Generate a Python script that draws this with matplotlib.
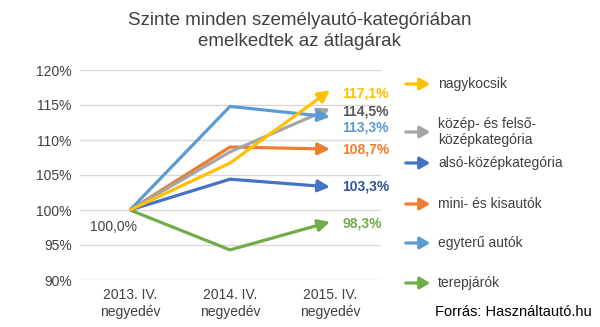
import matplotlib.pyplot as plt
from matplotlib.patches import FancyArrowPatch
import numpy as np

plt.rcParams['font.family'] = ['Liberation Sans', 'DejaVu Sans']

# Data
periods = ['2013. IV.\nnegyedév', '2014. IV.\nnegyedév', '2015. IV.\nnegyedév']
names = ['nagykocsik', 'közép- és felső-\nközépkategória', 'alsó-középkategória',
         'mini- és kisautók', 'egyterű autók', 'terepjárók']
nagykocsik = [100.0, 106.7, 117.1]
kozep_felso = [100.0, 108.3, 114.5]
also_kozep = [100.0, 104.4, 103.3]
mini_kis = [100.0, 109.0, 108.7]
egyteru = [100.0, 114.8, 113.3]
terepjaro = [100.0, 94.3, 98.3]
series = [nagykocsik, kozep_felso, also_kozep, mini_kis, egyteru, terepjaro]
colors = ['#FFC000', '#A5A5A5', '#4472C4', '#ED7D31', '#5B9BD5', '#70AD47']
label_colors = ['#FFC000', '#595959', '#2F5597', '#ED7D31', '#5B9BD5', '#70AD47']

fig = plt.figure(figsize=(6, 3.27), dpi=100)
ax = fig.add_axes([80/600, 1-280/327, 301/600, 210/327])
x = np.arange(len(periods))

# draw order so that the light blue and yellow sit on top like the original
order = [5, 2, 3, 1, 4, 0]
for i in order:
    vals = series[i]
    ax.plot(x[:-1], vals[:-1], color=colors[i], lw=2.3, solid_capstyle='butt', zorder=3)
    ax.annotate('', xy=(x[-1], vals[-1]), xytext=(x[-2], vals[-2]),
                arrowprops=dict(arrowstyle='-|>,head_length=0.7,head_width=0.35',
                                color=colors[i], lw=2.3, shrinkA=0, shrinkB=0),
                zorder=3)

# end labels (vertical offsets in points to avoid overlap)
offsets = [-2, -2, 0, 0, -7.5, -1]
for i, vals in enumerate(series):
    ax.annotate(f'{vals[-1]:.1f}%'.replace('.', ','), xy=(x[-1], vals[-1]),
                xytext=(9, offsets[i]), textcoords='offset points',
                color=label_colors[i], fontsize=10, fontweight='bold', va='center')
ax.annotate('100,0%', xy=(0, 100), xytext=(-12, -12), textcoords='offset points',
            fontsize=10, color='#404040', ha='center', va='center')

ax.set_xlim(-0.5, 2.51)
ax.set_ylim(90, 120)
ax.set_yticks(np.arange(90, 121, 5))
ax.set_yticklabels([f'{v}%' for v in range(90, 121, 5)])
ax.set_xticks(x)
ax.set_xticklabels(periods)
ax.tick_params(length=0, labelsize=10, colors='#404040', pad=6)
ax.tick_params(axis='x', pad=6)
ax.grid(axis='y', color='#D9D9D9', lw=1)
ax.set_axisbelow(True)
for s in ax.spines.values():
    s.set_visible(False)

fig.text(0.5, 1-31/327, 'Szinte minden személyautó-kategóriában\nemelkedtek az átlagárak',
         ha='center', va='center', fontsize=13.5, color='#404040', linespacing=1.35)

# manual legend with arrows
legend_y = [84, 132, 163, 204, 243, 283]
for i, name in enumerate(names):
    yf = 1 - legend_y[i]/327
    fig.patches.append(FancyArrowPatch(
        (403/600, yf), (433/600, yf), transform=fig.transFigure,
        arrowstyle='-|>,head_length=6,head_width=3.5', color=colors[i], lw=2.3,
        mutation_scale=1))
    fig.text(438/600, yf, name, ha='left', va='center', fontsize=10, color='#404040',
             linespacing=1.15)
fig.text(435/600, 1-312/327, 'Forrás: Használtautó.hu', ha='left', va='center',
         fontsize=10.5, color='#000000')

plt.savefig('out.png', dpi=100)
